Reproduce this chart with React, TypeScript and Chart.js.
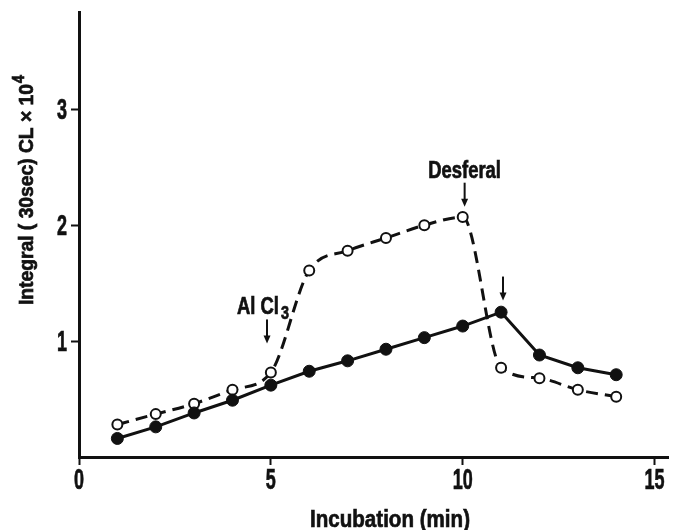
import React, { useEffect, useRef } from "react";
import { Chart, registerables } from "chart.js";

Chart.register(...registerables);

const incubationMinutes = [1, 2, 3, 4, 5, 6, 7, 8, 9, 10, 11, 12, 13, 14];
const filledSeries = [0.16, 0.26, 0.38, 0.49, 0.62, 0.74, 0.83, 0.93, 1.03, 1.13, 1.25, 0.88, 0.77, 0.71];
const openSeries = [0.28, 0.37, 0.46, 0.58, 0.73, 1.61, 1.78, 1.89, 2.0, 2.07, 0.77, 0.68, 0.58, 0.52];
const xTickValues = [0, 5, 10, 15];
const yTickValues = [1, 2, 3];
const xTitle = "Incubation (min)";
const yTitleMain = "Integral ( 30sec) CL × 10";
const yTitleSup = "4";
// arrows: x (min), tip y (value)
const arrowNotes = [
  { x: 4.9, tip: 0.98, label: "Al Cl", sub: "3", dx: -4 },
  { x: 10.05, tip: 2.16, label: "Desferal", sub: "", dx: 0 },
  { x: 11.05, tip: 1.35, label: "", sub: "", dx: 0 },
];

const FONT = "'Liberation Sans', Arial, sans-serif";
const INK = "#111";

function drawSquashed(
  ctx: CanvasRenderingContext2D,
  text: string,
  x: number,
  y: number,
  size: number,
  sx: number,
  align: CanvasTextAlign
) {
  ctx.save();
  ctx.font = `bold ${size}px ${FONT}`;
  ctx.translate(x, y);
  ctx.scale(sx, 1);
  ctx.textAlign = align;
  ctx.textBaseline = "alphabetic";
  ctx.fillText(text, 0, 0);
  ctx.lineWidth = 0.7;
  ctx.strokeText(text, 0, 0);
  ctx.restore();
}

function widthOf(ctx: CanvasRenderingContext2D, text: string, size: number) {
  ctx.save();
  ctx.font = `bold ${size}px ${FONT}`;
  const w = ctx.measureText(text).width;
  ctx.restore();
  return w;
}

const textPlugin = {
  id: "customText",
  afterDatasetsDraw(chart: any) {
    const ctx = chart.ctx as CanvasRenderingContext2D;
    const xs = chart.scales.x;
    const ys = chart.scales.y;
    ctx.save();
    ctx.fillStyle = INK;
    ctx.strokeStyle = INK;

    // tick labels
    const digitSize = 29;
    const digitSx = 0.62;
    xTickValues.forEach((v) => {
      drawSquashed(ctx, String(v), xs.getPixelForValue(v), 489, digitSize, digitSx, "center");
    });
    yTickValues.forEach((v) => {
      drawSquashed(ctx, String(v), 67, ys.getPixelForValue(v) + 10, digitSize, digitSx, "right");
    });

    // arrows + labels
    arrowNotes.forEach((n) => {
      const px = xs.getPixelForValue(n.x);
      const tipY = ys.getPixelForValue(n.tip);
      const len = 24;
      ctx.lineWidth = 2;
      ctx.beginPath();
      ctx.moveTo(px, tipY - len);
      ctx.lineTo(px, tipY - 5);
      ctx.stroke();
      ctx.beginPath();
      ctx.moveTo(px - 3.5, tipY - 8);
      ctx.lineTo(px + 3.5, tipY - 8);
      ctx.lineTo(px, tipY);
      ctx.closePath();
      ctx.fill();
      if (n.label) {
        const sx = 0.8;
        const baseY = tipY - len - 5;
        const w1 = widthOf(ctx, n.label, 23) * sx;
        const w2 = n.sub ? widthOf(ctx, n.sub, 18) * sx : 0;
        const startX = px + n.dx - (w1 + w2 + (n.sub ? 2 : 0)) / 2;
        drawSquashed(ctx, n.label, startX, baseY, 23, sx, "left");
        if (n.sub) drawSquashed(ctx, n.sub, startX + w1 + 2, baseY + 5, 18, sx, "left");
      }
    });

    // x title
    const xtw = widthOf(ctx, xTitle, 24);
    drawSquashed(ctx, xTitle, 390, 527, 24, 160 / xtw, "center");

    // y title (rotated)
    ctx.save();
    ctx.translate(33, 190);
    ctx.rotate(-Math.PI / 2);
    const wMain = widthOf(ctx, yTitleMain, 21);
    const wSup = widthOf(ctx, yTitleSup, 16);
    const ysx = 230 / (wMain + wSup + 1);
    const start = -(wMain + wSup + 1) * ysx / 2;
    drawSquashed(ctx, yTitleMain, start, 0, 21, ysx, "left");
    drawSquashed(ctx, yTitleSup, start + (wMain + 1) * ysx, -9, 16, ysx, "left");
    ctx.restore();

    ctx.restore();
  },
};

export default function App() {
  const canvasRef = useRef<HTMLCanvasElement | null>(null);

  useEffect(() => {
    if (!canvasRef.current) return;
    const chart = new Chart(canvasRef.current, {
      type: "line",
      data: {
        datasets: [
          {
            label: "filled",
            data: incubationMinutes.map((x, i) => ({ x, y: filledSeries[i] })),
            borderColor: INK,
            backgroundColor: INK,
            borderWidth: 3,
            pointRadius: 6,
            pointBackgroundColor: INK,
            pointBorderColor: INK,
            pointBorderWidth: 1,
            tension: 0,
          },
          {
            label: "open",
            data: incubationMinutes.map((x, i) => ({ x, y: openSeries[i] })),
            borderColor: INK,
            backgroundColor: "#fff",
            borderWidth: 3,
            borderDash: [12, 7],
            pointRadius: 5,
            pointBackgroundColor: "#fff",
            pointBorderColor: INK,
            pointBorderWidth: 2,
            cubicInterpolationMode: "monotone",
          },
        ],
      },
      options: {
        animation: false,
        responsive: true,
        maintainAspectRatio: false,
        layout: { padding: { left: 0, right: 15, top: 12, bottom: 0 } },
        plugins: { legend: { display: false }, tooltip: { enabled: false } },
        scales: {
          x: {
            type: "linear",
            min: 0,
            max: 15.35,
            afterBuildTicks: (scale: any) => {
              scale.ticks = xTickValues.map((v) => ({ value: v }));
            },
            afterFit: (scale: any) => {
              scale.height = 73;
            },
            grid: {
              drawOnChartArea: false,
              drawTicks: true,
              tickLength: 8,
              tickColor: INK,
              tickWidth: 2,
            },
            border: { display: true, color: INK, width: 3 },
            ticks: { display: false },
          },
          y: {
            type: "linear",
            min: 0,
            max: 3.84,
            afterBuildTicks: (scale: any) => {
              scale.ticks = yTickValues.map((v) => ({ value: v }));
            },
            afterFit: (scale: any) => {
              scale.width = 79;
            },
            grid: {
              drawOnChartArea: false,
              drawTicks: true,
              tickLength: 8,
              tickColor: INK,
              tickWidth: 2,
            },
            border: { display: true, color: INK, width: 3 },
            ticks: { display: false },
          },
        },
      },
      plugins: [textPlugin],
    } as any);
    return () => chart.destroy();
  }, []);

  return (
    <div style={{ position: "fixed", left: 0, top: 0, width: 683, height: 530, background: "#fff" }}>
      <canvas ref={canvasRef} />
    </div>
  );
}
